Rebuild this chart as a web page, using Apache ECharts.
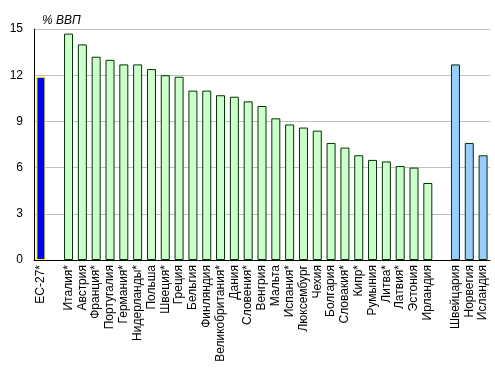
<!DOCTYPE html>
<html>
<head>
<meta charset="utf-8">
<script src="https://cdn.jsdelivr.net/npm/echarts@6/dist/echarts.min.js"></script>
<style>html,body{margin:0;padding:0;background:#fff;}#c{width:495px;height:382px;}</style>
</head>
<body>
<div id="c"></div>
<script>
const euLabel = 'ЕС-27*';
const euValue = 11.9;
const memberCountries = ['Италия*','Австрия','Франция*','Португалия','Германия*','Нидерланды*','Польша','Швеция*','Греция','Бельгия','Финляндия','Великобритания*','Дания','Словения*','Венгрия','Мальта','Испания*','Люксембург','Чехия','Болгария','Словакия*','Кипр*','Румыния','Литва*','Латвия*','Эстония','Ирландия'];
const memberValues = [14.7,14.0,13.2,13.0,12.7,12.7,12.4,12.0,11.9,11.0,11.0,10.7,10.6,10.3,10.0,9.2,8.8,8.6,8.4,7.6,7.3,6.8,6.5,6.4,6.1,6.0,5.0];
const otherCountries = ['Швейцария','Норвегия','Исландия'];
const otherValues = [12.7,7.6,6.8];
const yTicks = [0,3,6,9,12,15];

const categories = [euLabel, ''].concat(memberCountries, [''], otherCountries);
const data = [];
data.push({value: euValue, itemStyle:{color:'#0000FF', borderColor:'#FFFF00', borderWidth:1}});
data.push(null);
memberValues.forEach(v => data.push({value:v, itemStyle:{color:'#CCFFCC', borderColor:'#003300', borderWidth:1}}));
data.push(null);
otherValues.forEach(v => data.push({value:v, itemStyle:{color:'#99CCFF', borderColor:'#003300', borderWidth:1}}));

const chart = echarts.init(document.getElementById('c'), null, {renderer:'canvas'});
chart.setOption({
  animation:false,
  backgroundColor:'#fff',
  title:{text:'% ВВП', left:37, top:10, textStyle:{fontFamily:'Liberation Sans, Arial, sans-serif', fontSize:12, fontStyle:'italic', fontWeight:'normal', color:'#000'}},
  grid:{left:34, right:5, top:29, bottom:122, containLabel:false},
  xAxis:{type:'category', data:categories,
    axisLine:{lineStyle:{color:'#000', width:1}}, axisTick:{show:false},
    axisLabel:{rotate:90, interval:0, margin:5, fontSize:12, color:'#000', fontFamily:'Liberation Sans, Arial, sans-serif'}},
  yAxis:{type:'value', min:yTicks[0], max:yTicks[yTicks.length-1], interval:3,
    axisLine:{show:true, lineStyle:{color:'#000', width:1}}, axisTick:{show:false},
    splitLine:{lineStyle:{color:'#C0C0C0', width:1}},
    axisLabel:{fontSize:12, color:'#000', margin:11, fontFamily:'Liberation Sans, Arial, sans-serif'}},
  series:[{type:'bar', data:data, barWidth:9}]
});
</script>
</body>
</html>
